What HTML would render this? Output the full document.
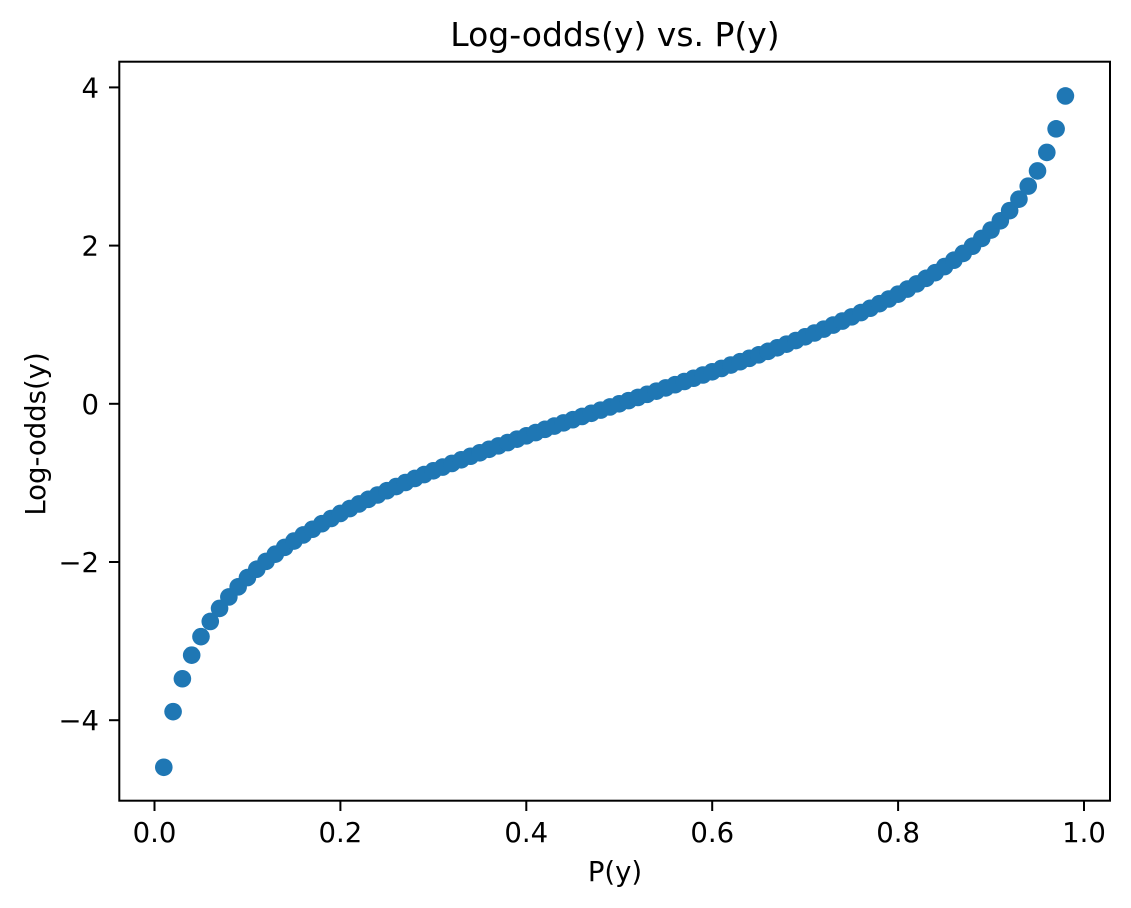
<!DOCTYPE html>
<html><head><meta charset="utf-8"><style>
html,body{margin:0;padding:0;background:#fff;}
svg{display:block;font-family:"DejaVu Sans","Liberation Sans",sans-serif;}
</style></head><body>
<svg id="chart" width="1131" height="908" viewBox="0 0 1131 908">
<rect width="1131" height="908" fill="#fff"/>
<text x="615" y="46" font-size="33" text-anchor="middle" fill="#000">Log-odds(y) vs. P(y)</text>
<g id="marks"></g>
<g id="xticks"></g>
<g id="yticks"></g>
<rect x="119.3" y="61.7" width="990.7" height="739" fill="none" stroke="#000" stroke-width="2"/>
<text x="615" y="881" font-size="27.5" text-anchor="middle">P(y)</text>
<text x="45" y="434" font-size="27.5" text-anchor="middle" transform="rotate(-90 45 434)">Log-odds(y)</text>
</svg>
<script>
const probs = [0.01,0.02,0.03,0.04,0.05,0.06,0.07,0.08,0.09,0.10,0.11,0.12,0.13,0.14,0.15,0.16,0.17,0.18,0.19,0.20,0.21,0.22,0.23,0.24,0.25,0.26,0.27,0.28,0.29,0.30,0.31,0.32,0.33,0.34,0.35,0.36,0.37,0.38,0.39,0.40,0.41,0.42,0.43,0.44,0.45,0.46,0.47,0.48,0.49,0.50,0.51,0.52,0.53,0.54,0.55,0.56,0.57,0.58,0.59,0.60,0.61,0.62,0.63,0.64,0.65,0.66,0.67,0.68,0.69,0.70,0.71,0.72,0.73,0.74,0.75,0.76,0.77,0.78,0.79,0.80,0.81,0.82,0.83,0.84,0.85,0.86,0.87,0.88,0.89,0.90,0.91,0.92,0.93,0.94,0.95,0.96,0.97,0.98];
const logOdds = [-4.595,-3.892,-3.476,-3.178,-2.944,-2.752,-2.587,-2.442,-2.314,-2.197,-2.091,-1.992,-1.901,-1.815,-1.735,-1.658,-1.586,-1.516,-1.450,-1.386,-1.325,-1.266,-1.208,-1.153,-1.099,-1.046,-0.995,-0.944,-0.895,-0.847,-0.800,-0.754,-0.708,-0.663,-0.619,-0.575,-0.532,-0.490,-0.447,-0.405,-0.364,-0.323,-0.282,-0.241,-0.201,-0.160,-0.120,-0.080,-0.040,0,0.040,0.080,0.120,0.160,0.201,0.241,0.282,0.323,0.364,0.405,0.447,0.490,0.532,0.575,0.619,0.663,0.708,0.754,0.800,0.847,0.895,0.944,0.995,1.046,1.099,1.153,1.208,1.266,1.325,1.386,1.450,1.516,1.586,1.658,1.735,1.815,1.901,1.992,2.091,2.197,2.314,2.442,2.587,2.752,2.944,3.178,3.476,3.892];
const xTicks = [0.0,0.2,0.4,0.6,0.8,1.0];
const xTickLabels = ["0.0","0.2","0.4","0.6","0.8","1.0"];
const yTicks = [-4,-2,0,2,4];
const yTickLabels = ["\u22124","\u22122","0","2","4"];

const NS = "http://www.w3.org/2000/svg";
const xs = v => 154.5 + v * 929.5;
const ys = v => 403.8 - v * 79.1;
const marks = document.getElementById('marks');
probs.forEach((p, i) => {
  const c = document.createElementNS(NS, 'circle');
  c.setAttribute('cx', xs(p));
  c.setAttribute('cy', ys(logOdds[i]));
  c.setAttribute('r', 8.8);
  c.setAttribute('fill', '#1f77b4');
  
  
  marks.appendChild(c);
});
const xg = document.getElementById('xticks');
xTicks.forEach((t, i) => {
  const l = document.createElementNS(NS, 'line');
  l.setAttribute('x1', xs(t)); l.setAttribute('x2', xs(t));
  l.setAttribute('y1', 801); l.setAttribute('y2', 811);
  l.setAttribute('stroke', '#000'); l.setAttribute('stroke-width', 2);
  
  
  xg.appendChild(l);
  const tx = document.createElementNS(NS, 'text');
  tx.setAttribute('x', xs(t)); tx.setAttribute('y', 842);
  tx.setAttribute('font-size', 27.5); tx.setAttribute('text-anchor', 'middle');
  tx.textContent = xTickLabels[i];
  
  
  xg.appendChild(tx);
});
const yg = document.getElementById('yticks');
yTicks.forEach((t, i) => {
  const l = document.createElementNS(NS, 'line');
  l.setAttribute('x1', 109); l.setAttribute('x2', 119);
  l.setAttribute('y1', ys(t)); l.setAttribute('y2', ys(t));
  l.setAttribute('stroke', '#000'); l.setAttribute('stroke-width', 2);
  
  
  yg.appendChild(l);
  const tx = document.createElementNS(NS, 'text');
  tx.setAttribute('x', 99); tx.setAttribute('y', ys(t) + 10);
  tx.setAttribute('font-size', 27.5); tx.setAttribute('text-anchor', 'end');
  tx.textContent = yTickLabels[i];
  
  
  yg.appendChild(tx);
});
</script>
</body></html>
